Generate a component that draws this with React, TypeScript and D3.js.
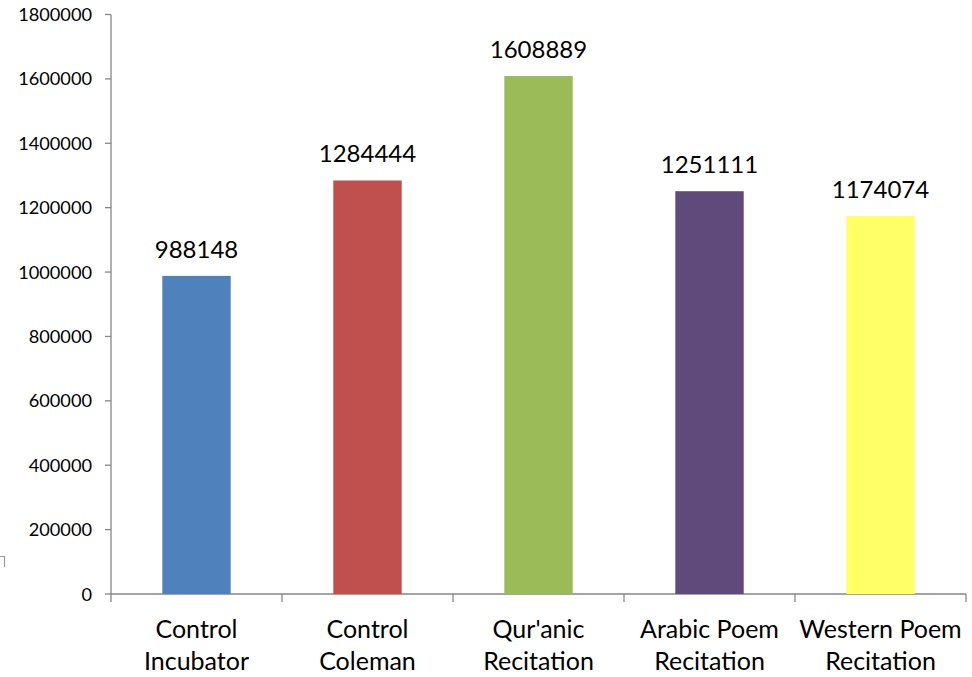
import React from "react";
import * as d3 from "d3";

const categories: string[][] = [
  ["Control", "Incubator"],
  ["Control", "Coleman"],
  ["Qur'anic", "Recitation"],
  ["Arabic Poem", "Recitation"],
  ["Western Poem", "Recitation"],
];
const values: number[] = [988148, 1284444, 1608889, 1251111, 1174074];
const colors: string[] = ["#4F81BD", "#C0504D", "#9BBB59", "#604A7B", "#FFFF66"];
const yTicks: number[] = [0, 200000, 400000, 600000, 800000, 1000000, 1200000, 1400000, 1600000, 1800000];

const W = 972;
const H = 677;
const margin = { left: 111, right: 6, top: 14.5, bottom: 83 };
const FONT = "Lato, 'Open Sans', sans-serif";
const AXIS = "#868686";

export default function App() {
  const keys = categories.map((c) => c.join(" "));
  const x = d3
    .scaleBand<string>()
    .domain(keys)
    .range([margin.left, W - margin.right])
    .paddingInner(0.6)
    .paddingOuter(0.3);
  const y = d3
    .scaleLinear()
    .domain([0, 1800000])
    .range([H - margin.bottom, margin.top]);

  const step = x.step();
  const x0 = margin.left;
  const x1 = W - margin.right;
  const y0 = y(0);

  return (
    <svg
      width={W}
      height={H}
      style={{ position: "absolute", left: 0, top: 0, background: "#fff" }}
      fontFamily={FONT}
    >
      {/* small clipped frame corner at the left edge */}
      <path d="M0,556.5 H4.5 V567" fill="none" stroke="#9a9a9a" strokeWidth={1.2} />

      {/* y axis */}
      <line x1={x0} x2={x0} y1={y(1800000)} y2={y0} stroke={AXIS} strokeWidth={1.3} />
      {yTicks.map((t) => (
        <g key={t}>
          <line x1={x0 - 6} x2={x0} y1={y(t)} y2={y(t)} stroke={AXIS} strokeWidth={1.3} />
          <text
            x={92}
            y={y(t)}
            dy="0.36em"
            textAnchor="end"
            fontSize={18.2}
            fill="#000"
          >
            {t}
          </text>
        </g>
      ))}

      {/* x axis */}
      <line x1={x0} x2={x1} y1={y0} y2={y0} stroke={AXIS} strokeWidth={1.3} />
      {d3.range(keys.length + 1).map((i) => (
        <line
          key={i}
          x1={x0 + i * step}
          x2={x0 + i * step}
          y1={y0}
          y2={y0 + 8}
          stroke={AXIS}
          strokeWidth={1.3}
        />
      ))}

      {/* bars with value labels */}
      {values.map((v, i) => {
        const k = keys[i];
        const bx = x(k)!;
        const cx = bx + x.bandwidth() / 2;
        return (
          <g key={k}>
            <rect x={bx} y={y(v)} width={x.bandwidth()} height={y0 - y(v)} fill={colors[i]} />
            <text x={cx} y={y(v) - 18} textAnchor="middle" fontSize={24} fill="#000">
              {v}
            </text>
          </g>
        );
      })}

      {/* category labels */}
      {categories.map((lines, i) => {
        const cx = x(keys[i])! + x.bandwidth() / 2;
        return (
          <text key={keys[i]} textAnchor="middle" fontSize={25} fill="#000">
            {lines.map((ln, j) => (
              <tspan key={j} x={cx} y={638 + j * 32}>
                {ln}
              </tspan>
            ))}
          </text>
        );
      })}
    </svg>
  );
}
